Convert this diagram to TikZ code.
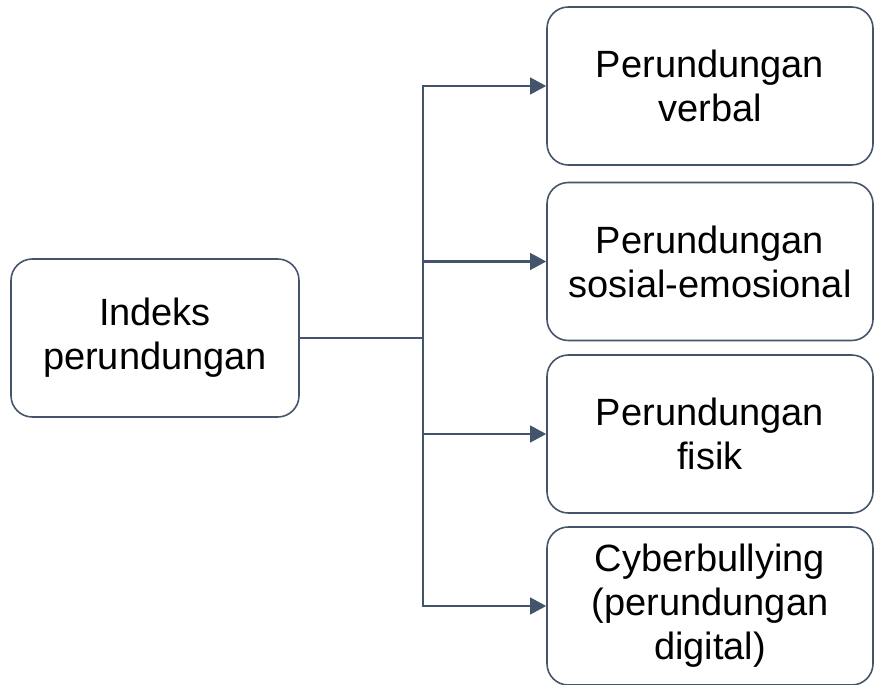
\documentclass[tikz,border=0pt]{standalone}
\usepackage{fontspec}
\setmainfont{Liberation Sans}
\usetikzlibrary{arrows.meta}
\definecolor{slate}{HTML}{44546A}
\tikzset{
  kotak/.style={draw=slate, line width=1.2pt, rounded corners=16pt, align=center,
    font=\fontsize{28.5}{33}\selectfont, inner sep=0pt},
  kanan/.style={kotak, minimum width=244.5pt, minimum height=118.5pt},
  panah/.style={draw=slate, line width=1.6pt, -{Triangle[length=12pt,width=12.5pt]}}
}
\begin{document}
\begin{tikzpicture}[x=0.75pt,y=-0.75pt]
\useasboundingbox (0,0) rectangle (875,685);
\node[kotak, minimum width=216pt, minimum height=118.5pt] (indeks) at (155,338) {Indeks\\perundungan};
\node[kanan] (verbal) at (710,86) {Perundungan\\verbal};
\node[kanan] (sosial) at (710,261.5) {Perundungan\\sosial-emosional};
\node[kanan] (fisik) at (710,434) {Perundungan\\fisik};
\node[kanan] (cyber) at (710,606) {Cyberbullying\\(perundungan\\digital)};
\coordinate (cabang) at (423,338);
\draw[slate, line width=1.6pt] (indeks.east) -- (cabang);
\draw[panah] (cabang) |- (verbal.west);
\draw[panah] (cabang) |- (sosial.west);
\draw[panah] (cabang) |- (fisik.west);
\draw[panah] (cabang) |- (cyber.west);
\end{tikzpicture}
\end{document}
